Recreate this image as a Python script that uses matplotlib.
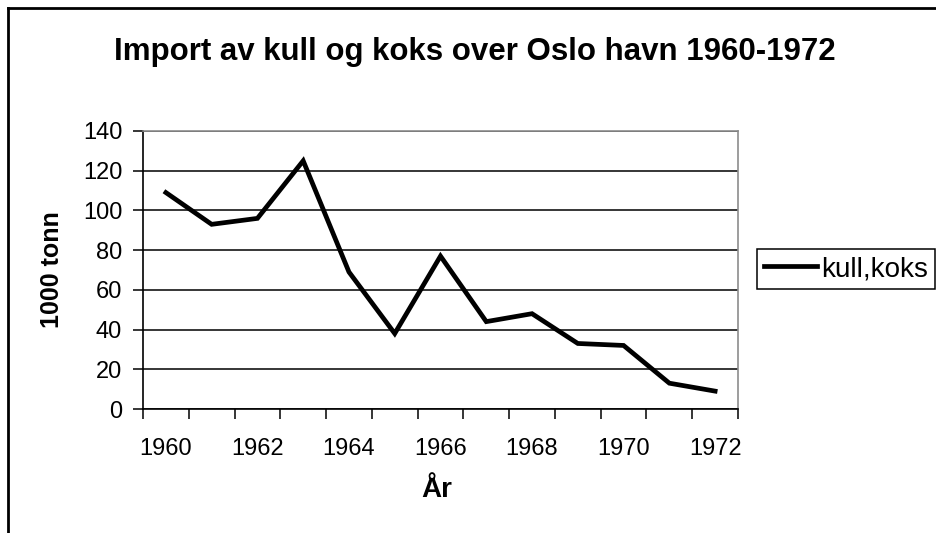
import matplotlib
matplotlib.use("Agg")
import matplotlib.pyplot as plt
from matplotlib.lines import Line2D

# Data (1000 tonn)
years = [1960, 1961, 1962, 1963, 1964, 1965, 1966, 1967, 1968, 1969, 1970, 1971, 1972]
kull_koks = [109, 93, 96, 125, 69, 38, 77, 44, 48, 33, 32, 13, 9]

plt.rcParams['font.family'] = ['Liberation Sans', 'DejaVu Sans']

fig = plt.figure(figsize=(9.36, 5.33), dpi=100)
ax = fig.add_axes([143 / 936, 1 - 409 / 533, 595 / 936, 278 / 533])

x = list(range(len(years)))
ax.plot(x, kull_koks, color='black', lw=3.4, solid_joinstyle='miter', label='kull,koks', zorder=3)

# y axis
ax.set_ylim(0, 140)
ax.set_yticks(range(0, 141, 20))
ax.yaxis.grid(True, color='black', lw=1.1)
ax.set_axisbelow(True)

# category axis: ticks between categories, labels every second year
ax.set_xlim(-0.5, len(years) - 0.5)
ax.set_xticks([i - 0.5 for i in range(len(years) + 1)])
ax.set_xticklabels([])
ax.set_xticks(x[::2], minor=True)
ax.set_xticklabels([str(y) for y in years[::2]], minor=True)

ax.tick_params(axis='both', which='major', direction='out', length=7, width=1.1, color='black')
ax.tick_params(axis='y', labelsize=17, pad=8)
ax.tick_params(axis='x', which='minor', length=0, labelsize=17, pad=21)

for side in ['left', 'bottom']:
    ax.spines[side].set_color('black')
    ax.spines[side].set_linewidth(1.2)
for side in ['top', 'right']:
    ax.spines[side].set_color('#8c8c8c')
    ax.spines[side].set_linewidth(1.2)

fig.text(475 / 936, 1 - 60 / 533, 'Import av kull og koks over Oslo havn 1960-1972',
         ha='center', va='baseline', fontsize=22.5, fontweight='bold')
fig.text(437 / 936, 1 - 497 / 533, 'År', ha='center', va='baseline', fontsize=20, fontweight='bold')
fig.text(52 / 936, 1 - 270 / 533, '1000 tonn', ha='center', va='center', rotation=90,
         fontsize=18, fontweight='bold')

leg = ax.legend(loc='center left', bbox_to_anchor=(757 / 936, 1 - 269 / 533),
                bbox_transform=fig.transFigure, frameon=True, fancybox=False, framealpha=1,
                edgecolor='black', fontsize=20, handlelength=1.9, handletextpad=0.15,
                borderpad=0.25, borderaxespad=0)
leg.get_frame().set_linewidth(1.1)

# outer chart border (left and top edges visible)
fig.add_artist(Line2D([8 / 936, 8 / 936], [0, 1 - 8 / 533], transform=fig.transFigure,
                      color='black', lw=2))
fig.add_artist(Line2D([8 / 936, 1], [1 - 8 / 533, 1 - 8 / 533], transform=fig.transFigure,
                      color='black', lw=2))

fig.savefig('out.png', dpi=100)
